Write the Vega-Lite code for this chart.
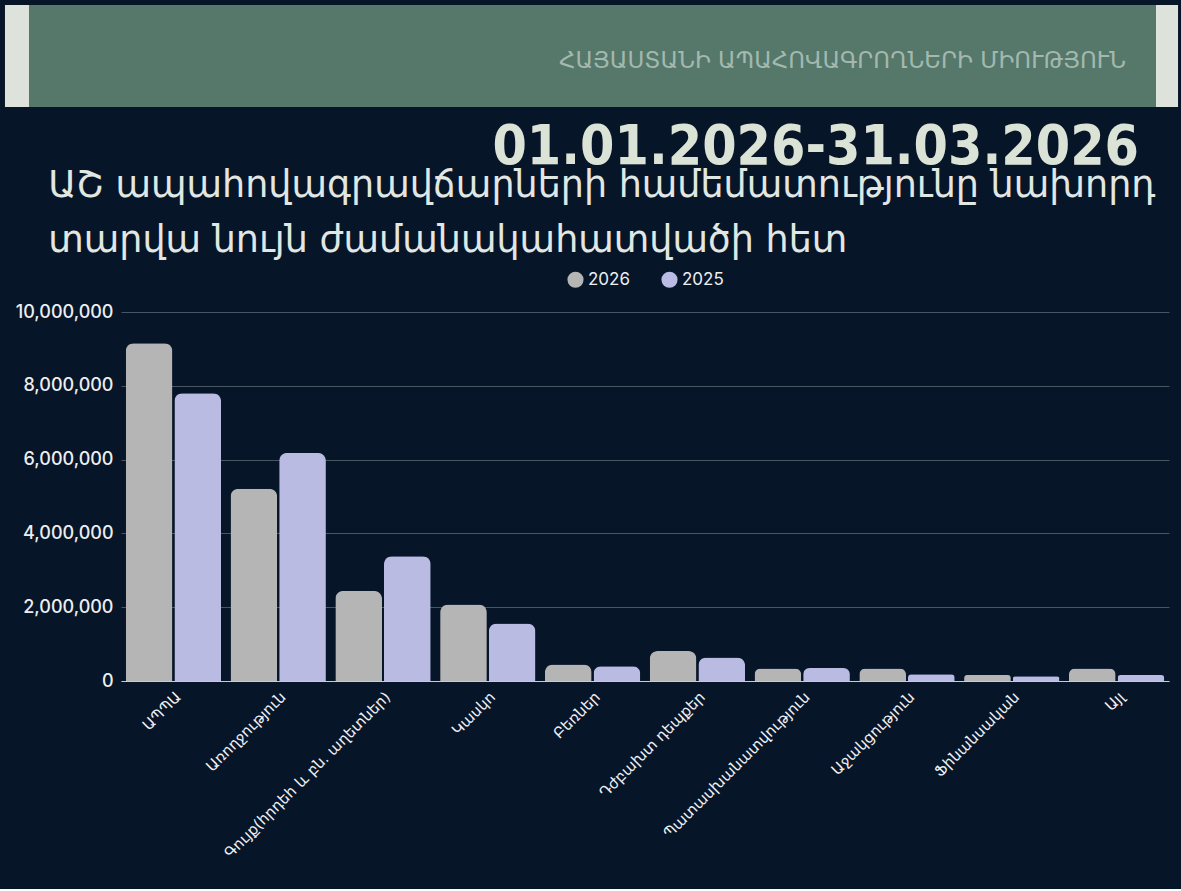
{
  "$schema": "https://vega.github.io/schema/vega-lite/v6.json",
  "background": "#071528",
  "padding": {"top": 5, "left": 4, "right": 12, "bottom": 28},
  "bounds": "full",
  "spacing": -8,
  "resolve": {"legend": {"color": "independent"}},
  "config": {
    "view": {"stroke": null},
    "axis": {"labelFont": "Inter", "domain": false},
    "legend": {"layout": {"top": {"anchor": "middle"}}}
  },
  "vconcat": [
    {
      "width": 1035,
      "height": 102,
      "title": {
        "text": "01.01.2026-31.03.2026",
        "orient": "bottom",
        "anchor": "end",
        "frame": "group",
        "dx": -17,
        "offset": 14,
        "font": "DejaVu Sans Condensed",
        "fontWeight": "bold",
        "fontSize": 55,
        "color": "#dbe2d6"
      },
      "data": {"values": [{"label": "ՀԱՅԱՍՏԱՆԻ ԱՊԱՀՈՎԱԳՐՈՂՆԵՐԻ ՄԻՈՒԹՅՈՒՆ"}]},
      "layer": [
        {
          "mark": {"type": "rect", "color": "#dde2da"},
          "encoding": {
            "x": {
              "datum": -0.1121,
              "type": "quantitative",
              "scale": {"domain": [0, 1], "nice": false, "zero": false},
              "axis": null
            },
            "x2": {"datum": 1.0213}
          }
        },
        {
          "mark": {"type": "rect", "color": "#55786b"},
          "encoding": {
            "x": {"datum": -0.0889, "type": "quantitative"},
            "x2": {"datum": 1}
          }
        },
        {
          "mark": {
            "type": "text",
            "align": "right",
            "baseline": "middle",
            "dy": 5,
            "font": "DejaVu Sans",
            "fontSize": 23,
            "color": "#a3b8ae"
          },
          "encoding": {
            "text": {"field": "label"},
            "x": {"datum": 0.971, "type": "quantitative"}
          }
        }
      ]
    },
    {
      "width": 1048,
      "height": 369,
      "title": {
        "text": [
          "ԱՇ ապահովագրավճարների համեմատությունը նախորդ",
          "տարվա նույն ժամանակահատվածի հետ"
        ],
        "anchor": "start",
        "frame": "bounds",
        "dx": 33,
        "offset": 12,
        "font": "DejaVu Sans",
        "fontWeight": "normal",
        "fontSize": 36.5,
        "lineHeight": 55,
        "color": "#e1e7e3"
      },
      "data": {
        "values": [
          {"category": "ԱՊՊԱ", "year": "2026", "value": 9150000},
          {"category": "ԱՊՊԱ", "year": "2025", "value": 7800000},
          {"category": "Առողջություն", "year": "2026", "value": 5210000},
          {"category": "Առողջություն", "year": "2025", "value": 6180000},
          {"category": "Գույք(հրդեհ և բն. աղետներ)", "year": "2026", "value": 2440000},
          {"category": "Գույք(հրդեհ և բն. աղետներ)", "year": "2025", "value": 3380000},
          {"category": "Կասկո", "year": "2026", "value": 2070000},
          {"category": "Կասկո", "year": "2025", "value": 1560000},
          {"category": "Բեռներ", "year": "2026", "value": 450000},
          {"category": "Բեռներ", "year": "2025", "value": 400000},
          {"category": "Դժբախտ դեպքեր", "year": "2026", "value": 810000},
          {"category": "Դժբախտ դեպքեր", "year": "2025", "value": 640000},
          {"category": "Պատասխանատվություն", "year": "2026", "value": 340000},
          {"category": "Պատասխանատվություն", "year": "2025", "value": 350000},
          {"category": "Աջակցություն", "year": "2026", "value": 340000},
          {"category": "Աջակցություն", "year": "2025", "value": 180000},
          {"category": "Ֆինանսական", "year": "2026", "value": 160000},
          {"category": "Ֆինանսական", "year": "2025", "value": 130000},
          {"category": "Այլ", "year": "2026", "value": 340000},
          {"category": "Այլ", "year": "2025", "value": 160000}
        ]
      },
      "mark": {
        "type": "bar",
        "cornerRadiusTopLeft": 8,
        "cornerRadiusTopRight": 8
      },
      "encoding": {
        "x": {
          "field": "category",
          "type": "nominal",
          "sort": null,
          "scale": {"paddingInner": 0.09, "paddingOuter": 0.045},
          "axis": {
            "title": null,
            "labelAngle": -45,
            "labelLimit": 0,
            "labelFont": "DejaVu Sans",
            "labelFontSize": 15,
            "labelColor": "#eef0f4",
            "labelPadding": 8,
            "ticks": false,
            "domain": true,
            "domainColor": "#c9ccd0"
          }
        },
        "xOffset": {
          "field": "year",
          "type": "nominal",
          "sort": ["2026", "2025"],
          "scale": {"paddingInner": 0.04}
        },
        "y": {
          "field": "value",
          "type": "quantitative",
          "scale": {"domain": [0, 10000000]},
          "axis": {
            "title": null,
            "values": [0, 2000000, 4000000, 6000000, 8000000, 10000000],
            "format": ",d",
            "ticks": false,
            "gridColor": "#4a5564",
            "labelFontSize": 18,
            "labelFontWeight": 500,
            "labelColor": "#eceef0",
            "labelPadding": 8
          }
        },
        "color": {
          "field": "year",
          "type": "nominal",
          "scale": {"domain": ["2026", "2025"], "range": ["#b5b5b5", "#b9bbe3"]},
          "legend": {
            "orient": "top",
            "direction": "horizontal",
            "title": null,
            "symbolType": "circle",
            "symbolSize": 260,
            "symbolStrokeWidth": 0,
            "labelFont": "Inter",
            "labelFontSize": 17,
            "labelColor": "#eceef0",
            "columnPadding": 30,
            "offset": 24
          }
        }
      }
    }
  ]
}
